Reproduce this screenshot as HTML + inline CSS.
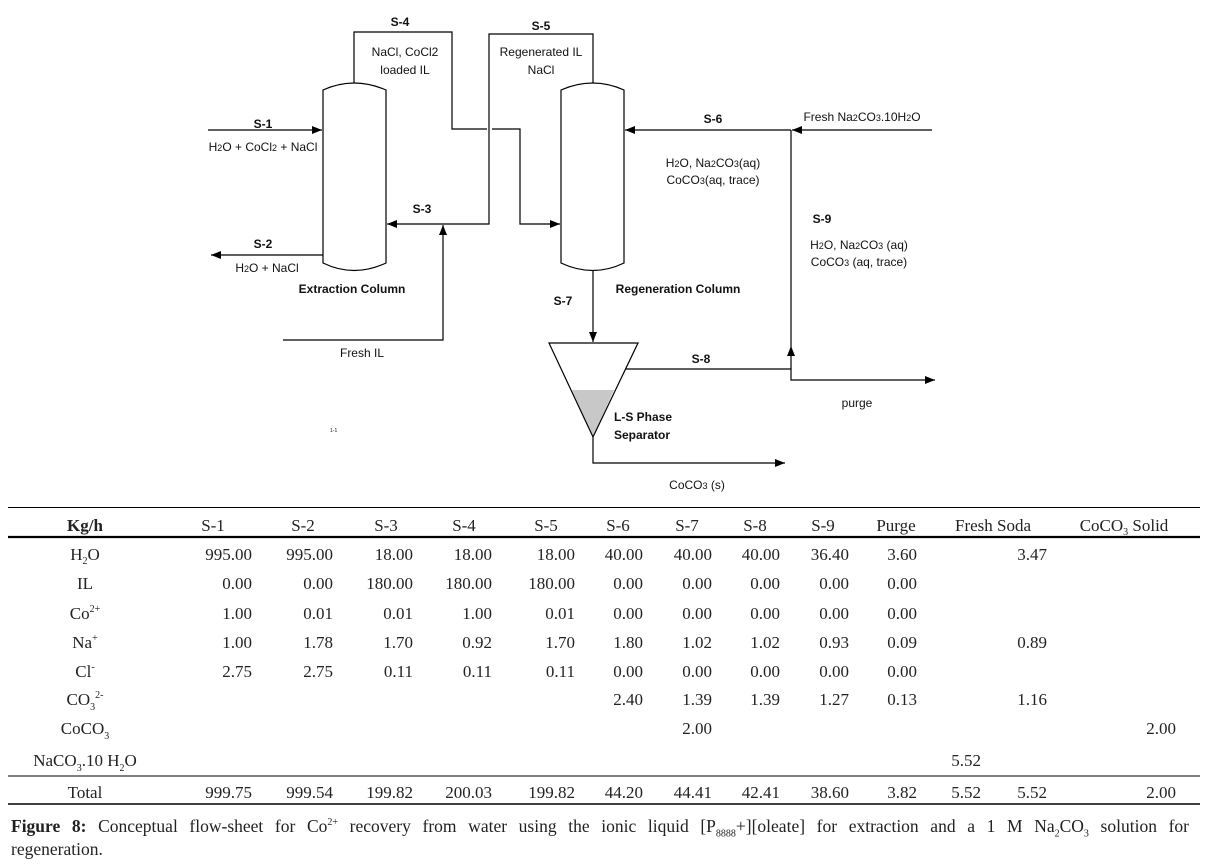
<!DOCTYPE html>
<html><head><meta charset="utf-8"><style>
html,body{margin:0;padding:0;background:#fff;}
body{position:relative;width:1210px;height:865px;overflow:hidden;}
svg{display:block;}
.d{font-family:"Liberation Sans",sans-serif;font-size:12px;fill:#111;}
.b{font-weight:bold;}
.t{font-family:"Liberation Serif",serif;font-size:17px;fill:#222;}
#cap{position:absolute;left:11px;top:815px;width:1178px;font-family:"Liberation Serif",serif;font-size:17.5px;line-height:23px;color:#222;text-align:justify;text-align-last:left;word-spacing:5px;}
#cap sub,#cap sup{font-size:10px;line-height:0;}
</style></head><body>
<svg width="1210" height="865" viewBox="0 0 1210 865" xmlns="http://www.w3.org/2000/svg">
<defs><marker id="a" markerWidth="10" markerHeight="8" refX="10" refY="4" orient="auto" markerUnits="userSpaceOnUse"><path d="M0,0 L10,4 L0,8 z" fill="#000"/></marker></defs>
<g fill="none" stroke="#000" stroke-width="1.2">
<path d="M323,90 Q354,76 386,90 L386,263 Q354,278 323,263 Z"/>
<path d="M561,90 Q593,76 624,90 L624,263 Q593,278 561,263 Z"/>
<path d="M354,83 L354,32 L452,32 L452,129 L487,129"/>
<path d="M492,129 L520,129 L520,224 L560,224" marker-end="url(#a)"/>
<path d="M593,83 L593,34 L489,34 L489,224 L387,224" marker-end="url(#a)"/>
<path d="M283,340 L443,340 L443,225" marker-end="url(#a)"/>
<path d="M208,130 L322,130" marker-end="url(#a)"/>
<path d="M323,255 L211,255" marker-end="url(#a)"/>
<path d="M593,271 L593,342" marker-end="url(#a)"/>
<path d="M932,130 L792,130" marker-end="url(#a)"/>
<path d="M791,130 L625,130" marker-end="url(#a)"/>
<path d="M791,369 L791,346" marker-end="url(#a)"/>
<path d="M791,346 L791,130"/>
<path d="M626,369 L791,369 L791,380 L935,380" marker-end="url(#a)"/>
<path d="M593,437 L593,463 L785,463" marker-end="url(#a)"/>
</g>
<polygon points="572,390 614,390 593,437" fill="#c8c8c8"/>
<polygon points="549,343 638,343 593,437" fill="none" stroke="#000" stroke-width="1.2"/>
<g class="d">
<text x="400" y="26" class="b" text-anchor="middle">S-4</text>
<text x="405" y="56" text-anchor="middle">NaCl, CoCl2</text>
<text x="405" y="74" text-anchor="middle">loaded IL</text>
<text x="541" y="30" class="b" text-anchor="middle">S-5</text>
<text x="541" y="56" text-anchor="middle">Regenerated IL</text>
<text x="541" y="74" text-anchor="middle">NaCl</text>
<text x="263" y="128" class="b" text-anchor="middle">S-1</text>
<text x="263" y="151" text-anchor="middle">H<tspan font-size="9">2</tspan>O + CoCl<tspan font-size="9">2</tspan> + NaCl</text>
<text x="263" y="248" class="b" text-anchor="middle">S-2</text>
<text x="267" y="272" text-anchor="middle">H<tspan font-size="9">2</tspan>O + NaCl</text>
<text x="422" y="213" class="b" text-anchor="middle">S-3</text>
<text x="352" y="293" class="b" text-anchor="middle">Extraction Column</text>
<text x="362" y="357" text-anchor="middle">Fresh IL</text>
<text x="713" y="123" class="b" text-anchor="middle">S-6</text>
<text x="862" y="121" text-anchor="middle">Fresh Na<tspan font-size="9">2</tspan>CO<tspan font-size="9">3</tspan>.10H<tspan font-size="9">2</tspan>O</text>
<text x="713" y="167" text-anchor="middle">H<tspan font-size="9">2</tspan>O, Na<tspan font-size="9">2</tspan>CO<tspan font-size="9">3</tspan>(aq)</text>
<text x="713" y="184" text-anchor="middle">CoCO<tspan font-size="9">3</tspan>(aq, trace)</text>
<text x="822" y="223" class="b" text-anchor="middle">S-9</text>
<text x="859" y="249" text-anchor="middle">H<tspan font-size="9">2</tspan>O, Na<tspan font-size="9">2</tspan>CO<tspan font-size="9">3</tspan> (aq)</text>
<text x="859" y="266" text-anchor="middle">CoCO<tspan font-size="9">3</tspan> (aq, trace)</text>
<text x="678" y="293" class="b" text-anchor="middle">Regeneration Column</text>
<text x="563" y="305" class="b" text-anchor="middle">S-7</text>
<text x="701" y="363" class="b" text-anchor="middle">S-8</text>
<text x="857" y="407" text-anchor="middle">purge</text>
<text x="614" y="421" class="b">L-S Phase</text>
<text x="614" y="439" class="b">Separator</text>
<text x="697" y="489" text-anchor="middle">CoCO<tspan font-size="9">3</tspan> (s)</text>
<text x="330" y="432" font-size="5">1-1</text>
</g>
<g stroke="#000">
<line x1="8" y1="507.5" x2="1200" y2="507.5" stroke-width="1"/>
<line x1="8" y1="537" x2="1200" y2="537" stroke-width="2.2"/>
<line x1="8" y1="776" x2="1200" y2="776" stroke-width="1"/>
<line x1="8" y1="804" x2="1200" y2="804" stroke-width="1.5"/>
</g>
<g class="t">
<g text-anchor="middle">
<text x="85" y="531" font-weight="bold">Kg/h</text>
<text x="213" y="531">S-1</text><text x="303" y="531">S-2</text><text x="386" y="531">S-3</text>
<text x="464" y="531">S-4</text><text x="546" y="531">S-5</text><text x="618" y="531">S-6</text>
<text x="687" y="531">S-7</text><text x="755" y="531">S-8</text><text x="823" y="531">S-9</text>
<text x="896" y="531">Purge</text><text x="993" y="531">Fresh Soda</text>
<text x="1124" y="531">CoCO<tspan font-size="10" dy="4">3</tspan><tspan dy="-4"> Solid</tspan></text>
<text x="85" y="560">H<tspan font-size="10" dy="4">2</tspan><tspan dy="-4">O</tspan></text>
<text x="85" y="589">IL</text>
<text x="85" y="619">Co<tspan font-size="10" dy="-7">2+</tspan></text>
<text x="85" y="648">Na<tspan font-size="10" dy="-7">+</tspan></text>
<text x="85" y="677">Cl<tspan font-size="10" dy="-7">-</tspan></text>
<text x="85" y="705">CO<tspan font-size="10" dy="5">3</tspan><tspan font-size="10" dy="-12">2-</tspan></text>
<text x="85" y="734">CoCO<tspan font-size="10" dy="5">3</tspan></text>
<text x="85" y="766">NaCO<tspan font-size="10" dy="5">3</tspan><tspan dy="-5">.10 H</tspan><tspan font-size="10" dy="5">2</tspan><tspan dy="-5">O</tspan></text>
<text x="85" y="798">Total</text>
</g>
<g text-anchor="end">
<text y="560"><tspan x="252">995.00</tspan><tspan x="333">995.00</tspan><tspan x="413">18.00</tspan><tspan x="492">18.00</tspan><tspan x="575">18.00</tspan><tspan x="643">40.00</tspan><tspan x="712">40.00</tspan><tspan x="780">40.00</tspan><tspan x="849">36.40</tspan><tspan x="917">3.60</tspan><tspan x="1047">3.47</tspan></text>
<text y="589"><tspan x="252">0.00</tspan><tspan x="333">0.00</tspan><tspan x="413">180.00</tspan><tspan x="492">180.00</tspan><tspan x="575">180.00</tspan><tspan x="643">0.00</tspan><tspan x="712">0.00</tspan><tspan x="780">0.00</tspan><tspan x="849">0.00</tspan><tspan x="917">0.00</tspan></text>
<text y="619"><tspan x="252">1.00</tspan><tspan x="333">0.01</tspan><tspan x="413">0.01</tspan><tspan x="492">1.00</tspan><tspan x="575">0.01</tspan><tspan x="643">0.00</tspan><tspan x="712">0.00</tspan><tspan x="780">0.00</tspan><tspan x="849">0.00</tspan><tspan x="917">0.00</tspan></text>
<text y="648"><tspan x="252">1.00</tspan><tspan x="333">1.78</tspan><tspan x="413">1.70</tspan><tspan x="492">0.92</tspan><tspan x="575">1.70</tspan><tspan x="643">1.80</tspan><tspan x="712">1.02</tspan><tspan x="780">1.02</tspan><tspan x="849">0.93</tspan><tspan x="917">0.09</tspan><tspan x="1047">0.89</tspan></text>
<text y="677"><tspan x="252">2.75</tspan><tspan x="333">2.75</tspan><tspan x="413">0.11</tspan><tspan x="492">0.11</tspan><tspan x="575">0.11</tspan><tspan x="643">0.00</tspan><tspan x="712">0.00</tspan><tspan x="780">0.00</tspan><tspan x="849">0.00</tspan><tspan x="917">0.00</tspan></text>
<text y="705"><tspan x="643">2.40</tspan><tspan x="712">1.39</tspan><tspan x="780">1.39</tspan><tspan x="849">1.27</tspan><tspan x="917">0.13</tspan><tspan x="1047">1.16</tspan></text>
<text y="734"><tspan x="712">2.00</tspan><tspan x="1176">2.00</tspan></text>
<text y="766"><tspan x="981">5.52</tspan></text>
<text y="798"><tspan x="252">999.75</tspan><tspan x="333">999.54</tspan><tspan x="413">199.82</tspan><tspan x="492">200.03</tspan><tspan x="575">199.82</tspan><tspan x="643">44.20</tspan><tspan x="712">44.41</tspan><tspan x="780">42.41</tspan><tspan x="849">38.60</tspan><tspan x="917">3.82</tspan><tspan x="981">5.52</tspan><tspan x="1047">5.52</tspan><tspan x="1176">2.00</tspan></text>
</g>
</g>
</svg>
<div id="cap"><b>Figure 8:</b> Conceptual flow-sheet for Co<sup>2+</sup> recovery from water using the ionic liquid [P<sub>8888</sub>+][oleate] for extraction and a 1 M Na<sub>2</sub>CO<sub>3</sub> solution for regeneration.</div>
</body></html>
